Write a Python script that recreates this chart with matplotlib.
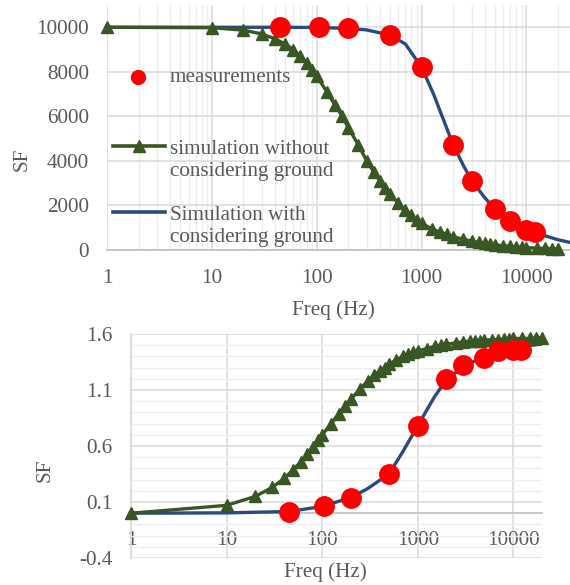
import matplotlib
matplotlib.use("Agg")
import matplotlib.pyplot as plt
from matplotlib.lines import Line2D
from matplotlib.ticker import FixedLocator, NullFormatter, MultipleLocator, LogLocator

# ---- data -------------------------------------------------------------
# measurements
f_meas = [45, 105, 200, 500, 1000, 2000, 3000, 5000, 7000, 10000, 12000]
sf_meas_top = [10000, 10000, 9950, 9650, 8200, 4720, 3120, 1850, 1320, 920, 800]
sf_meas_bot = [0.01, 0.06, 0.14, 0.35, 0.78, 1.20, 1.32, 1.39, 1.45, 1.46, 1.46]

# simulation without considering ground
f_sim0 = [1, 10, 20, 30, 40, 50, 60, 70, 80, 90, 100, 125, 150, 175, 200, 250,
          300, 350, 400, 450, 500, 600, 700, 800, 900, 1000, 1250, 1500, 1750,
          2000, 2500, 3000, 3500, 4000, 4500, 5000, 6000, 7000, 8000, 9000,
          10000, 12500, 15000, 17500, 20000]
sf_sim0_top = [10000, 9980, 9870, 9700, 9480, 9250, 9000, 8700, 8400, 8100,
               7800, 7100, 6500, 6000, 5500, 4700, 4000, 3500, 3100, 2800,
               2500, 2100, 1800, 1550, 1350, 1200, 950, 800, 700, 600, 480,
               400, 340, 300, 260, 230, 190, 160, 140, 120, 110, 85, 70, 60, 50]
sf_sim0_bot = [0.0, 0.07, 0.15, 0.23, 0.31, 0.39, 0.46, 0.53, 0.59, 0.65,
               0.70, 0.80, 0.89, 0.96, 1.02, 1.11, 1.18, 1.23, 1.27, 1.30,
               1.33, 1.37, 1.40, 1.42, 1.44, 1.45, 1.47, 1.49, 1.50, 1.51,
               1.52, 1.53, 1.535, 1.54, 1.54, 1.545, 1.55, 1.55, 1.555, 1.555,
               1.56, 1.56, 1.56, 1.565, 1.565]

# simulation with considering ground
f_sim1 = [1, 10, 30, 50, 100, 200, 300, 500, 700, 1000, 1300, 1600, 2000,
          2500, 3000, 4000, 5000, 7000, 10000, 15000, 20000, 26000]
sf_sim1_top = [10000, 10000, 10000, 10000, 9990, 9950, 9880, 9650, 9250, 8200,
               7000, 5900, 4720, 3800, 3120, 2350, 1850, 1320, 930, 640, 460, 340]
f_sim1b = [1, 10, 45, 100, 200, 300, 500, 700, 1000, 1500, 2000, 3000, 5000,
           7000, 10000, 20000]
sf_sim1_bot = [0.0, 0.003, 0.015, 0.06, 0.14, 0.22, 0.35, 0.55, 0.78, 1.04,
               1.19, 1.31, 1.40, 1.45, 1.48, 1.51]

x_ticks = [1, 10, 100, 1000, 10000]
x_labels = ["1", "10", "100", "1000", "10000"]
top_yticks = [0, 2000, 4000, 6000, 8000, 10000]
bot_yticks = [-0.4, 0.1, 0.6, 1.1, 1.6]
bot_ylabels = ["-0.4", "0.1", "0.6", "1.1", "1.6"]

leg_labels = ['measurements',
              'simulation without\nconsidering ground',
              'Simulation with\nconsidering ground']

# ---- style ------------------------------------------------------------
plt.rcParams['font.family'] = ['Liberation Serif', 'DejaVu Serif']
TXT = '#595959'
RED = '#FF0000'
GREEN = '#385723'
BLUE = '#2B4A7E'
GMAJ = '#D9D9D9'
GMIN = '#EDEDED'
FS = 15.2

fig = plt.figure(figsize=(5.7, 5.85), dpi=100)

# ---- top chart --------------------------------------------------------
ax1 = fig.add_axes([107 / 570, 1 - 250 / 585, 463 / 570, 245 / 585])
ax1.set_xscale('log')
ax1.set_xlim(1, 26000)
ax1.set_ylim(0, 11000)

ax1.plot(f_sim1, sf_sim1_top, color=BLUE, lw=2.4, zorder=3)
ax1.plot(f_sim0, sf_sim0_top, color=GREEN, lw=2.4, marker='^', ms=9,
         zorder=4, clip_on=False)
ax1.plot(f_meas, sf_meas_top, ls='none', marker='o', ms=14, color=RED,
         zorder=5, clip_on=False)

ax1.xaxis.set_major_locator(FixedLocator(x_ticks))
ax1.set_xticklabels(x_labels)
ax1.xaxis.set_minor_locator(LogLocator(base=10, subs=range(2, 10), numticks=20))
ax1.xaxis.set_minor_formatter(NullFormatter())
ax1.set_yticks(top_yticks)
ax1.set_yticklabels([str(v) for v in top_yticks])
ax1.grid(True, which='major', color=GMAJ, lw=1.1, zorder=0)
ax1.grid(True, which='minor', axis='x', color=GMIN, lw=1.0, zorder=0)
ax1.set_axisbelow(True)

for s in ['top', 'right', 'left']:
    ax1.spines[s].set_visible(False)
ax1.spines['bottom'].set_color('#BFBFBF')
ax1.spines['bottom'].set_linewidth(1.2)
ax1.tick_params(which='both', length=0, labelsize=FS, colors=TXT)
ax1.tick_params(axis='x', pad=14)
ax1.tick_params(axis='y', pad=13)

ax1.set_ylabel('SF', fontsize=FS, color=TXT)
ax1.yaxis.set_label_coords(-0.162, 0.37)
ax1.set_xlabel('Freq (Hz)', fontsize=FS, color=TXT)
ax1.xaxis.set_label_coords(0.49, -0.205)

# legend drawn by hand so that the keys sit on the first text line
tr = ax1.transAxes
ax1.add_line(Line2D([0.067], [0.706], transform=tr, ls='none', marker='o',
                    ms=10, color=RED, clip_on=False))
ax1.add_line(Line2D([0.013, 0.125], [0.424, 0.424], transform=tr, lw=2.6,
                    color=GREEN, clip_on=False))
ax1.add_line(Line2D([0.069], [0.424], transform=tr, ls='none', marker='^',
                    ms=9, color=GREEN, clip_on=False))
ax1.add_line(Line2D([0.013, 0.125], [0.155, 0.155], transform=tr, lw=2.6,
                    color=BLUE, clip_on=False))
pitch = 0.099  # one text line, in axes units
for ty, lab in zip([0.706, 0.424, 0.155], leg_labels):
    n_extra = lab.count('\n')
    ax1.text(0.136, ty - 0.022 - n_extra * pitch, lab, transform=tr,
             fontsize=FS, color=TXT, ha='left', va='baseline',
             linespacing=1.22)

# ---- bottom chart -----------------------------------------------------
ax2 = fig.add_axes([131 / 570, 1 - 558 / 585, 411 / 570, 224 / 585])
ax2.set_xscale('log')
ax2.set_xlim(1, 20000)
ax2.set_ylim(-0.4, 1.6)

ax2.plot(f_sim1b, sf_sim1_bot, color=BLUE, lw=2.4, zorder=3)
ax2.plot(f_sim0, sf_sim0_bot, color=GREEN, lw=2.4, marker='^', ms=9,
         zorder=4, clip_on=False)
ax2.plot(f_meas, sf_meas_bot, ls='none', marker='o', ms=14, color=RED,
         zorder=5, clip_on=False)

ax2.xaxis.set_major_locator(FixedLocator(x_ticks))
ax2.set_xticklabels(x_labels)
ax2.xaxis.set_minor_locator(FixedLocator([]))
ax2.set_yticks(bot_yticks)
ax2.set_yticklabels(bot_ylabels)
ax2.yaxis.set_minor_locator(MultipleLocator(0.1))
ax2.grid(True, which='major', color=GMAJ, lw=1.1, zorder=0)
ax2.grid(True, which='minor', axis='y', color=GMIN, lw=1.0, zorder=0)
ax2.set_axisbelow(True)

for s in ['top', 'right']:
    ax2.spines[s].set_visible(False)
ax2.spines['bottom'].set_position(('data', 0))
ax2.spines['bottom'].set_color('#BFBFBF')
ax2.spines['bottom'].set_linewidth(1.2)
ax2.spines['left'].set_color('#D9D9D9')
ax2.spines['left'].set_linewidth(1.2)
ax2.tick_params(which='both', length=0, labelsize=FS, colors=TXT)
ax2.tick_params(axis='x', pad=13)
ax2.tick_params(axis='y', pad=13)

ax2.set_ylabel('SF', fontsize=FS, color=TXT)
ax2.yaxis.set_label_coords(-0.185, 0.39)
ax2.text(0.474, -0.065, 'Freq (Hz)', transform=ax2.transAxes, fontsize=FS,
         color=TXT, ha='center', va='center')

fig.savefig('out.png', dpi=100)
